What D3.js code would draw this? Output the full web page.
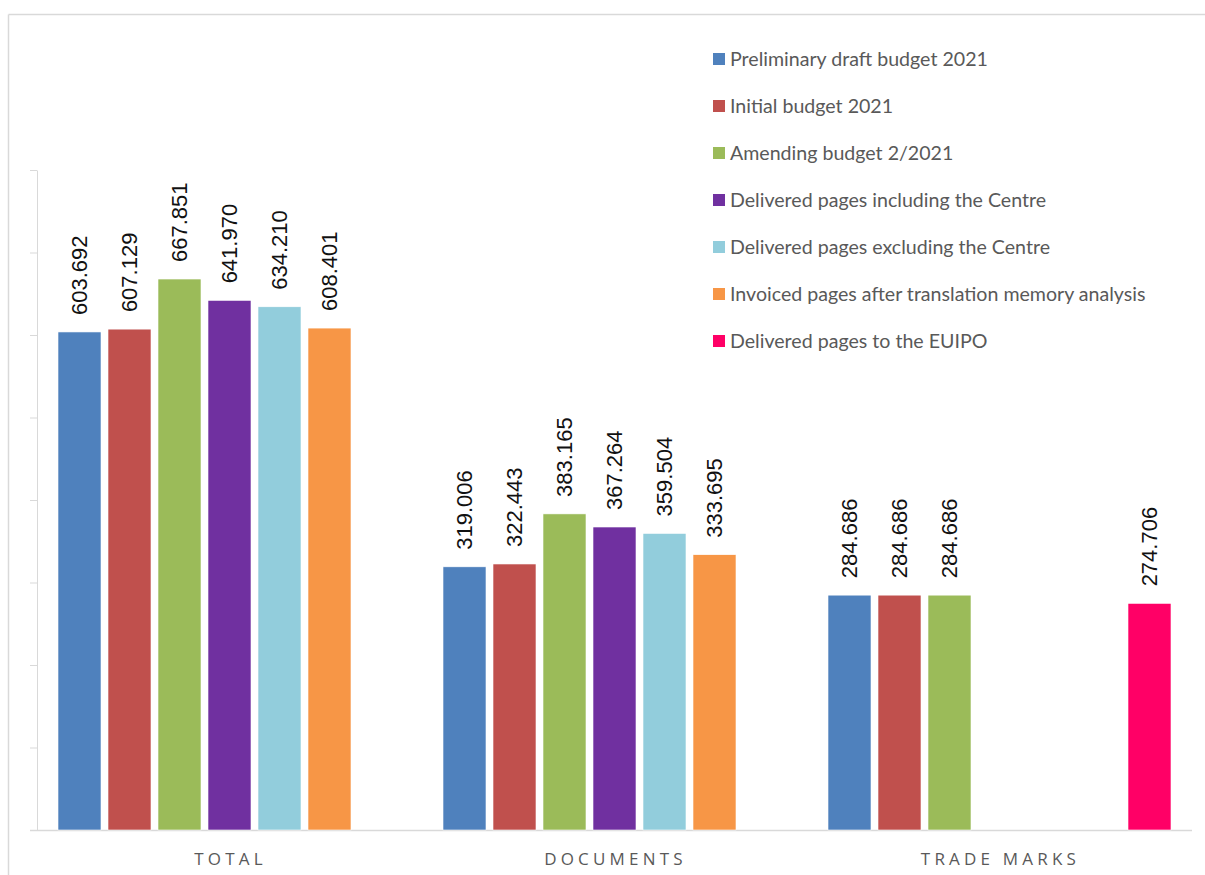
<!DOCTYPE html>
<html>
<head>
<meta charset="utf-8">
<script src="https://cdn.jsdelivr.net/npm/d3@7"></script>
<style>
  body { margin: 0; background: #fff; }
  svg { display: block; }
</style>
</head>
<body>
<svg id="chart" width="1205" height="875"></svg>
<script>
var categories = ['TOTAL', 'DOCUMENTS', 'TRADE MARKS'];

var seriesNames = [
  'Preliminary draft budget 2021',
  'Initial budget 2021',
  'Amending budget 2/2021',
  'Delivered pages including the Centre',
  'Delivered pages excluding the Centre',
  'Invoiced pages after translation memory analysis',
  'Delivered pages to the EUIPO'
];

var seriesColors = ['#4f81bd', '#c0504d', '#9bbb59', '#7030a0', '#92cddc', '#f79646', '#ff0066'];

// one array per series, in category order (null = no bar)
var preliminaryDraft = [603692, 319006, 284686];
var initialBudget = [607129, 322443, 284686];
var amendingBudget = [667851, 383165, 284686];
var deliveredIncl = [641970, 367264, null];
var deliveredExcl = [634210, 359504, null];
var invoicedPages = [608401, 333695, null];
var deliveredEuipo = [null, null, 274706];

var seriesValues = [preliminaryDraft, initialBudget, amendingBudget, deliveredIncl, deliveredExcl, invoicedPages, deliveredEuipo];

var yTicks = [0, 100000, 200000, 300000, 400000, 500000, 600000, 700000, 800000];

var locale = d3.formatLocale({ decimal: ',', thousands: '.', grouping: [3], currency: ['', ''] });
var fmt = locale.format(',d');

var svg = d3.select('#chart');
var grey = '#d9d9d9';

// outer chart frame (only top and left edges are visible)
svg.append('line').attr('x1', 8.5).attr('x2', 1205).attr('y1', 14.5).attr('y2', 14.5)
  .attr('stroke', grey).attr('stroke-width', 1.5);
svg.append('line').attr('x1', 8.5).attr('x2', 8.5).attr('y1', 14.5).attr('y2', 875)
  .attr('stroke', grey).attr('stroke-width', 1.5);

var x = d3.scaleBand()
  .domain(categories)
  .range([37, 1192])
  .padding(0);

var xInner = d3.scaleBand()
  .domain(d3.range(seriesNames.length))
  .range([21, x.bandwidth() - 21])
  .paddingInner(0.14)
  .paddingOuter(0);

var y = d3.scaleLinear()
  .domain([0, 800000])
  .range([830, 170]);

// y axis: line + ticks, no labels
var yAxis = svg.append('g')
  .attr('transform', 'translate(37,0)')
  .call(d3.axisLeft(y).tickValues(yTicks).tickSize(7).tickSizeOuter(0).tickFormat(''));
yAxis.select('.domain').attr('stroke', grey);
yAxis.selectAll('.tick line').attr('stroke', grey);

// x baseline
svg.append('line')
  .attr('x1', 30).attr('x2', 1192)
  .attr('y1', y(0) + 0.5).attr('y2', y(0) + 0.5)
  .attr('stroke', grey).attr('stroke-width', 1.5);

var bars = [];
seriesValues.forEach(function(vals, si) {
  vals.forEach(function(v, ci) {
    if (v !== null) bars.push({ series: si, category: categories[ci], value: v });
  });
});

var g = svg.append('g');

g.selectAll('.bar')
  .data(bars)
  .enter()
  .append('rect')
  .attr('class', 'bar')
  .attr('x', function(d) { return x(d.category) + xInner(d.series); })
  .attr('width', xInner.bandwidth())
  .attr('y', function(d) { return y(d.value); })
  .attr('height', function(d) { return y(0) - y(d.value); })
  .attr('fill', function(d) { return seriesColors[d.series]; })
  .attr('stroke', '#fff')
  .attr('stroke-width', 0.6);

g.selectAll('.value-label')
  .data(bars)
  .enter()
  .append('text')
  .attr('class', 'value-label')
  .attr('transform', function(d) {
    var cx = x(d.category) + xInner(d.series) + xInner.bandwidth() / 2;
    return 'translate(' + cx + ',' + (y(d.value) - 17) + ') rotate(-90)';
  })
  .attr('dy', '0.36em')
  .attr('font-family', '"Liberation Sans", Arial, sans-serif')
  .attr('font-size', 22)
  .attr('fill', '#111')
  .text(function(d) { return fmt(d.value); });

// category labels
svg.selectAll('.cat-label')
  .data(categories)
  .enter()
  .append('text')
  .attr('class', 'cat-label')
  .attr('x', function(d) { return x(d) + x.bandwidth() / 2 + 1; })
  .attr('y', 865)
  .attr('text-anchor', 'middle')
  .attr('font-family', '"Open Sans", sans-serif')
  .attr('font-size', 17)
  .attr('letter-spacing', 4.2)
  .attr('fill', '#595959')
  .text(function(d) { return d; });

// legend
var legend = svg.append('g').attr('transform', 'translate(713,59)');
var item = legend.selectAll('.legend-item')
  .data(seriesNames)
  .enter()
  .append('g')
  .attr('class', 'legend-item')
  .attr('transform', function(d, i) { return 'translate(0,' + (i * 47) + ')'; });

item.append('rect')
  .attr('x', 0).attr('y', -6)
  .attr('width', 12).attr('height', 12)
  .attr('fill', function(d, i) { return seriesColors[i]; });

item.append('text')
  .attr('x', 17)
  .attr('y', 0)
  .attr('dy', '0.35em')
  .attr('font-family', 'Lato, "Open Sans", sans-serif')
  .attr('font-size', 19.6)
  .attr('fill', '#595959')
  .text(function(d) { return d; });
</script>
</body>
</html>
